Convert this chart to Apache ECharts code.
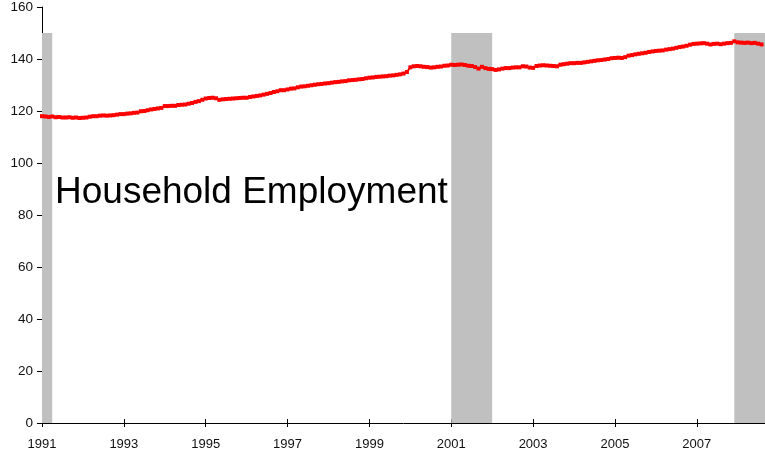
<!DOCTYPE html>
<html style="height: 100%">
<head>
    <meta charset="utf-8">
</head>
<body style="height: 100%; margin: 0">
    <div id="container" style="width: 765px; height: 454px"></div>
    <script type="text/javascript" src="https://cdn.jsdelivr.net/npm/echarts@6/dist/echarts.min.js"></script>
    <script type="text/javascript">
        // monthly household employment, millions, Jan 1991 .. Aug 2008
        var startYear = 1991;
        var employment = [
            118.0, 117.9, 117.7, 117.9, 117.6, 117.7, 117.5, 117.5, 117.6, 117.4, 117.5, 117.3, // 1991
            117.4, 117.5, 117.8, 118.0, 118.0, 118.2, 118.3, 118.2, 118.3, 118.4, 118.6, 118.8, // 1992
            118.8, 119.0, 119.1, 119.3, 119.4, 119.9, 120.0, 120.3, 120.6, 120.8, 121.0, 121.2, // 1993
            121.9, 121.9, 122.0, 122.0, 122.3, 122.4, 122.5, 122.8, 123.1, 123.5, 123.8, 124.3, // 1994
            124.8, 125.0, 125.1, 124.9, 124.3, 124.5, 124.6, 124.7, 124.8, 124.9, 125.0, 125.1, // 1995
            125.1, 125.4, 125.6, 125.8, 126.0, 126.3, 126.6, 126.9, 127.3, 127.6, 128.0, 128.0, // 1996
            128.3, 128.6, 128.7, 129.1, 129.4, 129.5, 129.7, 129.9, 130.1, 130.3, 130.4, 130.6, // 1997
            130.7, 130.9, 131.1, 131.2, 131.4, 131.5, 131.8, 131.9, 132.0, 132.2, 132.3, 132.6, // 1998
            132.8, 132.9, 133.1, 133.2, 133.3, 133.4, 133.6, 133.7, 133.9, 134.1, 134.4, 135.0, // 1999
            136.8, 137.2, 137.3, 137.2, 137.0, 136.9, 136.7, 136.8, 137.0, 137.1, 137.4, 137.5, // 2000
            137.8, 137.7, 137.8, 137.9, 137.7, 137.4, 137.3, 136.9, 136.3, 137.0, 136.5, 136.2, // 2001
            136.1, 135.8, 136.0, 136.3, 136.5, 136.5, 136.7, 136.8, 136.8, 137.2, 137.1, 136.7, // 2002
            136.6, 137.3, 137.5, 137.6, 137.5, 137.4, 137.3, 137.2, 137.8, 138.0, 138.2, 138.4, // 2003
            138.4, 138.5, 138.5, 138.7, 138.9, 139.1, 139.3, 139.5, 139.6, 139.8, 140.0, 140.3, // 2004
            140.4, 140.5, 140.4, 140.7, 141.3, 141.5, 141.8, 142.0, 142.2, 142.4, 142.7, 142.9, // 2005
            143.1, 143.2, 143.3, 143.6, 143.8, 144.0, 144.3, 144.6, 144.8, 145.1, 145.5, 145.8, // 2006
            145.9, 146.0, 146.1, 145.9, 145.6, 145.8, 145.9, 145.7, 145.9, 146.1, 146.2, 146.8, // 2007
            146.4, 146.3, 146.2, 146.3, 146.1, 146.2, 145.9, 145.6                              // 2008
        ];
        // recession shading, month index from Jan 1991 [start, end]
        var recessions = [[0, 3], [120, 132], [203, 212]];
        var shadeTop = 150;

        var dom = document.getElementById("container");
        var myChart = echarts.init(dom);

        var seriesData = employment.map(function (v, i) { return [i, v]; });
        var areas = recessions.map(function (r) {
            return [{ xAxis: r[0], yAxis: 0 }, { xAxis: r[1], yAxis: shadeTop }];
        });
        var font = 'Liberation Sans, Arial, sans-serif';

        var option = {
            animation: false,
            backgroundColor: '#fff',
            grid: { left: 42, right: 0, top: 7, bottom: 31 },
            graphic: [{
                type: 'text',
                left: 55,
                top: 174,
                z: 100,
                style: {
                    text: 'Household Employment',
                    fontFamily: font,
                    fontSize: 37,
                    fill: '#000'
                }
            }],
            xAxis: [
                {
                    type: 'value',
                    min: 0,
                    max: 212,
                    interval: 24,
                    axisLine: { lineStyle: { color: '#000', width: 1 } },
                    axisTick: { length: 4, lineStyle: { color: '#000' } },
                    splitLine: { show: false },
                    axisLabel: {
                        color: '#111',
                        fontSize: 13,
                        fontFamily: font,
                        margin: 15,
                        formatter: function (v) { return String(startYear + v / 12); }
                    }
                },
                {
                    // second axis only to get ticks crossing the line
                    type: 'value',
                    position: 'bottom',
                    min: 0,
                    max: 212,
                    interval: 24,
                    axisLine: { show: false },
                    axisTick: { inside: true, length: 4, lineStyle: { color: '#000' } },
                    axisLabel: { show: false },
                    splitLine: { show: false }
                }
            ],
            yAxis: {
                type: 'value',
                min: 0,
                max: 160,
                interval: 20,
                axisLine: { show: true, lineStyle: { color: '#000', width: 1 } },
                axisTick: { show: true, length: 5, lineStyle: { color: '#000' } },
                splitLine: { show: false },
                axisLabel: {
                    color: '#111',
                    fontSize: 13.5,
                    fontFamily: font,
                    margin: 9
                }
            },
            series: [
                {
                    name: 'Household Employment',
                    type: 'line',
                    data: seriesData,
                    symbol: 'rect',
                    symbolSize: 4,
                    showAllSymbol: true,
                    lineStyle: { color: '#ff0000', width: 2 },
                    itemStyle: { color: '#ff0000' },
                    markArea: {
                        silent: true,
                        itemStyle: { color: '#c0c0c0' },
                        data: areas
                    },
                    z: 3
                }
            ]
        };

        myChart.setOption(option, true);
    </script>
</body>
</html>
